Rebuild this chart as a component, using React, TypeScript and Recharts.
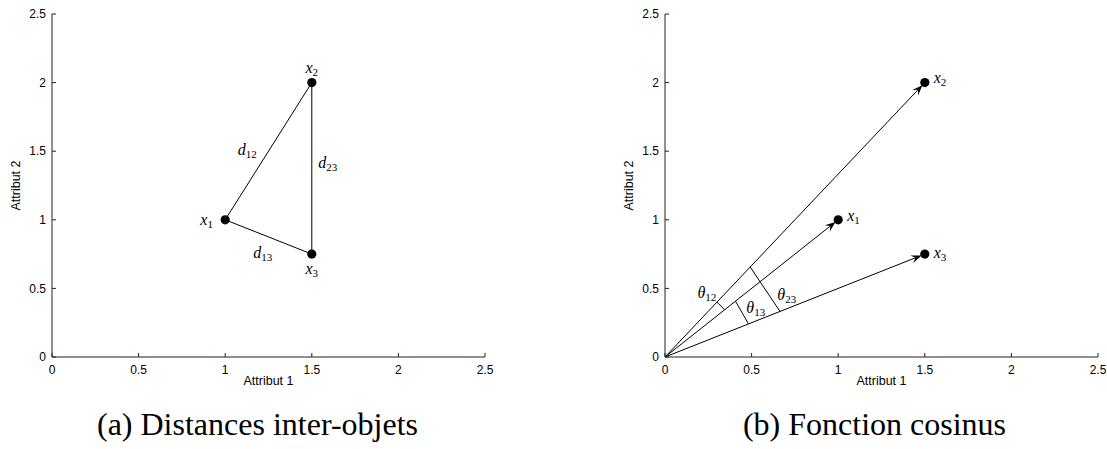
import React from 'react';
import { ComposedChart, XAxis, YAxis, Scatter, ReferenceLine, Label } from 'recharts';

// ---------- data ----------
const axisTicks = [0, 0.5, 1, 1.5, 2, 2.5];
const axisMin = 0;
const axisMax = 2.5;
const xAxisTitle = 'Attribut 1';
const yAxisTitle = 'Attribut 2';
const captions = ['(a) Distances inter-objets', '(b) Fonction cosinus'];

// the three objects
const pointX = [1, 1.5, 1.5];
const pointY = [1, 2, 0.75];

// panel (a): triangle edges (indices into the points)
const edgeFrom = [0, 1, 2];
const edgeTo = [1, 2, 0];

// panel (a) labels (data coordinates)
const labelsA = [
  { base: 'x', sub: '1', x: 0.893, y: 1.0 },
  { base: 'x', sub: '2', x: 1.5, y: 2.11 },
  { base: 'x', sub: '3', x: 1.5, y: 0.64 },
  { base: 'd', sub: '12', x: 1.127, y: 1.511 },
  { base: 'd', sub: '23', x: 1.592, y: 1.416 },
  { base: 'd', sub: '13', x: 1.217, y: 0.759 },
];

// panel (b): angle bars between vectors (data coordinates of their ends)
const barX1 = [0.30, 0.407, 0.492];
const barY1 = [0.40, 0.407, 0.656];
const barX2 = [0.344, 0.482, 0.664];
const barY2 = [0.344, 0.241, 0.332];

// panel (b) labels (data coordinates)
const labelsB = [
  { base: 'x', sub: '1', x: 1.088, y: 1.03 },
  { base: 'x', sub: '2', x: 1.588, y: 2.036 },
  { base: 'x', sub: '3', x: 1.588, y: 0.755 },
  { base: 'θ', sub: '12', x: 0.242, y: 0.467 },
  { base: 'θ', sub: '13', x: 0.524, y: 0.358 },
  { base: 'θ', sub: '23', x: 0.703, y: 0.453 },
];

// ---------- styling ----------
const W = 500;
const H = 400;
const MARGIN = { top: 14, right: 15, bottom: 13, left: 12 };
const SANS = '"Liberation Sans", Arial, Helvetica, sans-serif';
const SERIF = '"Liberation Serif", "Times New Roman", serif';

const points = pointX.map((x, i) => ({ x, y: pointY[i] }));

const Dot = (p: any) => <circle cx={p.cx} cy={p.cy} r={4.6} fill="#000" />;

const MathLabel = (p: any) => {
  const d = p.payload || {};
  return (
    <text x={p.cx} y={p.cy + 5} textAnchor="middle" fontFamily={SERIF} fill="#000">
      <tspan fontStyle="italic" fontSize={16}>{d.base}</tspan>
      <tspan fontSize={11} dy={3}>{d.sub}</tspan>
    </text>
  );
};

const ArrowLine = (p: any) => {
  const { x1, y1, x2, y2 } = p;
  const dx = x2 - x1;
  const dy = y2 - y1;
  const len = Math.hypot(dx, dy) || 1;
  const ux = dx / len;
  const uy = dy / len;
  const tx = x2 - ux * 3.5;
  const ty = y2 - uy * 3.5;
  const L = 10.5;
  const Wd = 4;
  const notch = 6.5;
  const bx = tx - ux * L;
  const by = ty - uy * L;
  const nx = -uy;
  const ny = ux;
  const d = `M${tx},${ty} L${bx + nx * Wd},${by + ny * Wd} L${tx - ux * notch},${ty - uy * notch} L${bx - nx * Wd},${by - ny * Wd} Z`;
  return (
    <g>
      <line x1={x1} y1={y1} x2={tx - ux * notch} y2={ty - uy * notch} stroke="#000" strokeWidth={1} />
      <path d={d} fill="#000" />
    </g>
  );
};

const xTitle = (p: any) => {
  const vb = p.viewBox || {};
  return (
    <text x={vb.x + vb.width / 2} y={vb.y + 28} textAnchor="middle" fontFamily={SANS} fontSize={12.5} fill="#000">
      {xAxisTitle}
    </text>
  );
};

const yTitle = (p: any) => {
  const vb = p.viewBox || {};
  const cx = vb.x + 8;
  const cy = vb.y + vb.height / 2;
  return (
    <text x={cx} y={cy} textAnchor="middle" fontFamily={SANS} fontSize={12.5} fill="#000" transform={`rotate(-90 ${cx} ${cy})`}>
      {yAxisTitle}
    </text>
  );
};

function Panel({ kind }: { kind: 'a' | 'b' }) {
  const labels = kind === 'a' ? labelsA : labelsB;
  return (
    <ComposedChart width={W} height={H} margin={MARGIN}>
      <XAxis
        type="number"
        dataKey="x"
        domain={[axisMin, axisMax]}
        ticks={axisTicks}
        interval={0}
        allowDataOverflow
        height={30}
        tickSize={-4}
        tickMargin={12}
        stroke="#222"
        tick={{ fontFamily: SANS, fontSize: 12, fill: '#000' }}
      >
        <Label content={xTitle} />
      </XAxis>
      <YAxis
        type="number"
        dataKey="y"
        domain={[axisMin, axisMax]}
        ticks={axisTicks}
        interval={0}
        allowDataOverflow
        width={40}
        tickSize={-4}
        tickMargin={10}
        stroke="#222"
        tick={{ fontFamily: SANS, fontSize: 12, fill: '#000' }}
      >
        <Label content={yTitle} />
      </YAxis>
      {kind === 'a' &&
        edgeFrom.map((f, i) => (
          <ReferenceLine
            key={'e' + i}
            segment={[points[f], points[edgeTo[i]]]}
            stroke="#000"
            strokeWidth={1}
            ifOverflow="visible"
          />
        ))}
      {kind === 'b' &&
        points.map((pt, i) => (
          <ReferenceLine
            key={'v' + i}
            segment={[{ x: 0, y: 0 }, pt]}
            shape={ArrowLine}
            ifOverflow="visible"
          />
        ))}
      {kind === 'b' &&
        barX1.map((bx, i) => (
          <ReferenceLine
            key={'b' + i}
            segment={[{ x: bx, y: barY1[i] }, { x: barX2[i], y: barY2[i] }]}
            stroke="#000"
            strokeWidth={1}
            ifOverflow="visible"
          />
        ))}
      <Scatter data={points} dataKey="y" shape={Dot} isAnimationActive={false} />
      <Scatter data={labels} dataKey="y" shape={MathLabel} isAnimationActive={false} />
    </ComposedChart>
  );
}

export default function App() {
  return (
    <div style={{ position: 'absolute', left: 0, top: 0, width: 1107, height: 449, background: '#fff', overflow: 'hidden' }}>
      <div style={{ position: 'absolute', left: 0, top: 0 }}>
        <Panel kind="a" />
      </div>
      <div style={{ position: 'absolute', left: 613, top: 0 }}>
        <Panel kind="b" />
      </div>
      {captions.map((c, i) => (
        <div
          key={c}
          style={{
            position: 'absolute',
            left: i === 0 ? 257.5 : 874.5,
            top: 408,
            transform: 'translateX(-50%)',
            fontFamily: SERIF,
            fontSize: 32,
            lineHeight: '32px',
            whiteSpace: 'nowrap',
            color: '#000',
          }}
        >
          {c}
        </div>
      ))}
    </div>
  );
}
